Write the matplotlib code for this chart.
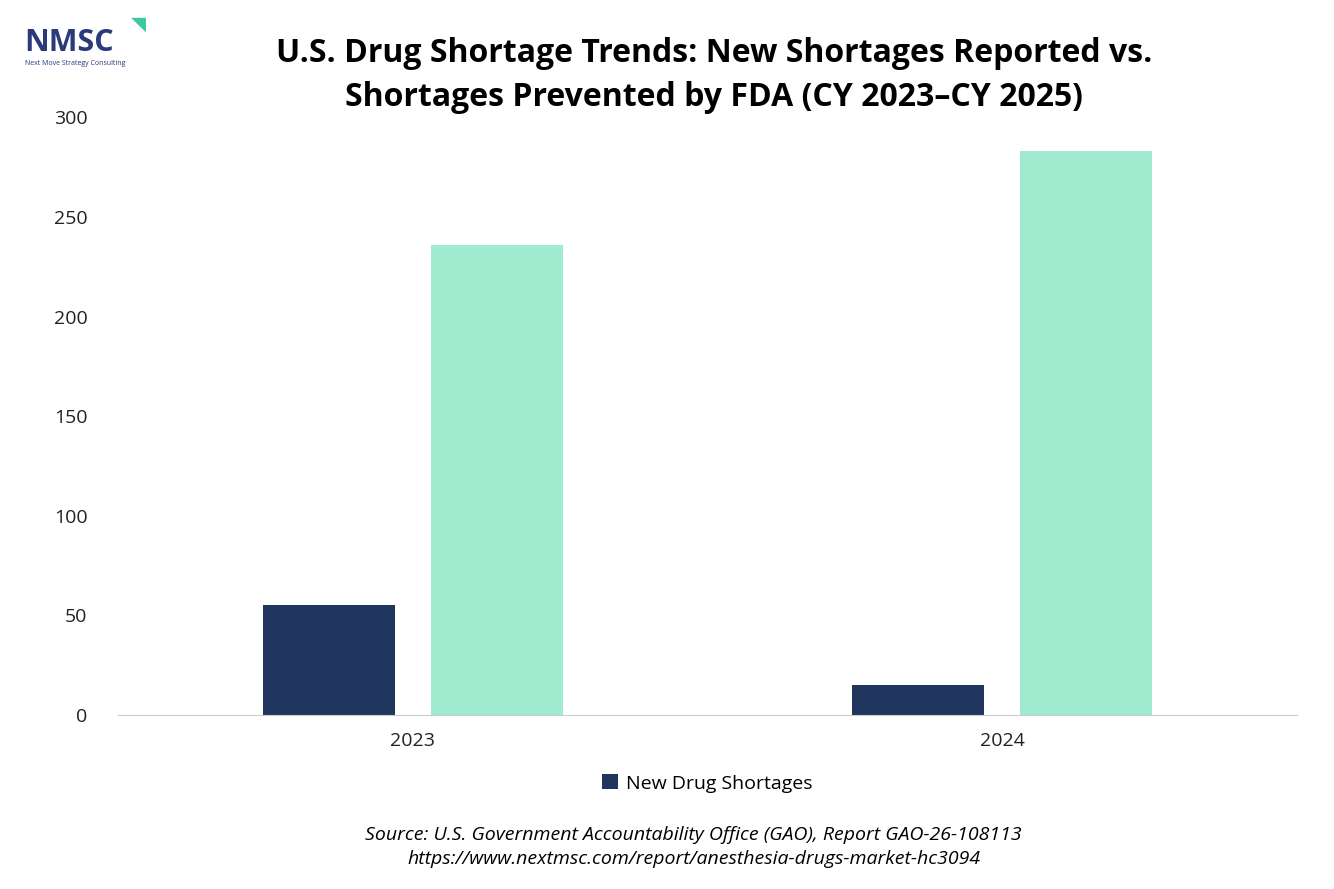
import matplotlib
matplotlib.use('Agg')
import matplotlib.pyplot as plt
import numpy as np

years = ['2023', '2024']
new_shortages = [55, 15]
prevented = [236, 283]

plt.rcParams['font.family'] = ['Open Sans', 'DejaVu Sans']

fig = plt.figure(figsize=(13.34, 8.89), dpi=100)
ax = fig.add_axes([0.0885, 0.1957, 0.8835, 0.6723])

x = np.arange(len(years))
w = 0.224
off = 0.1425
b1 = ax.bar(x - off, new_shortages, w, color='#1f355e', label='New Drug Shortages')
ax.bar(x + off, prevented, w, color='#a0ead0')

ax.set_xlim(-0.5, 1.5)
ax.set_ylim(0, 300)
ax.set_xticks(x)
ax.set_xticklabels(years)
ax.set_yticks(range(0, 301, 50))
ax.tick_params(axis='both', length=0, labelsize=14, colors='#222222')
ax.tick_params(axis='y', pad=22)
ax.tick_params(axis='x', pad=12)
for s in ['top', 'right', 'left']:
    ax.spines[s].set_visible(False)
ax.spines['bottom'].set_color('#cccccc')

ax.legend(handles=[b1], loc='upper center', bbox_to_anchor=(0.5, -0.07), frameon=False,
          fontsize=14, handlelength=0.8, handleheight=0.8, handletextpad=0.4)

fig.text(0.535, 0.915, 'U.S. Drug Shortage Trends: New Shortages Reported vs.\nShortages Prevented by FDA (CY 2023\u2013CY 2025)',
         ha='center', va='center', fontsize=23, fontweight='bold', linespacing=1.45)

fig.text(0.52, 0.047, 'Source: U.S. Government Accountability Office (GAO), Report GAO-26-108113\nhttps://www.nextmsc.com/report/anesthesia-drugs-market-hc3094',
         ha='center', va='center', fontsize=14, style='italic', linespacing=1.4)

# logo
fig.text(0.018, 0.952, 'NMSC', fontsize=22, fontweight='bold', color='#2b3a7a', va='center')
fig.text(0.019, 0.929, 'Next Move Strategy Consulting', fontsize=5, color='#2b3a7a', va='center')
fig.text(0.098, 0.972, '\u25E5', fontsize=14, color='#3cc9a0', va='center')

fig.savefig('out.png', dpi=100)
